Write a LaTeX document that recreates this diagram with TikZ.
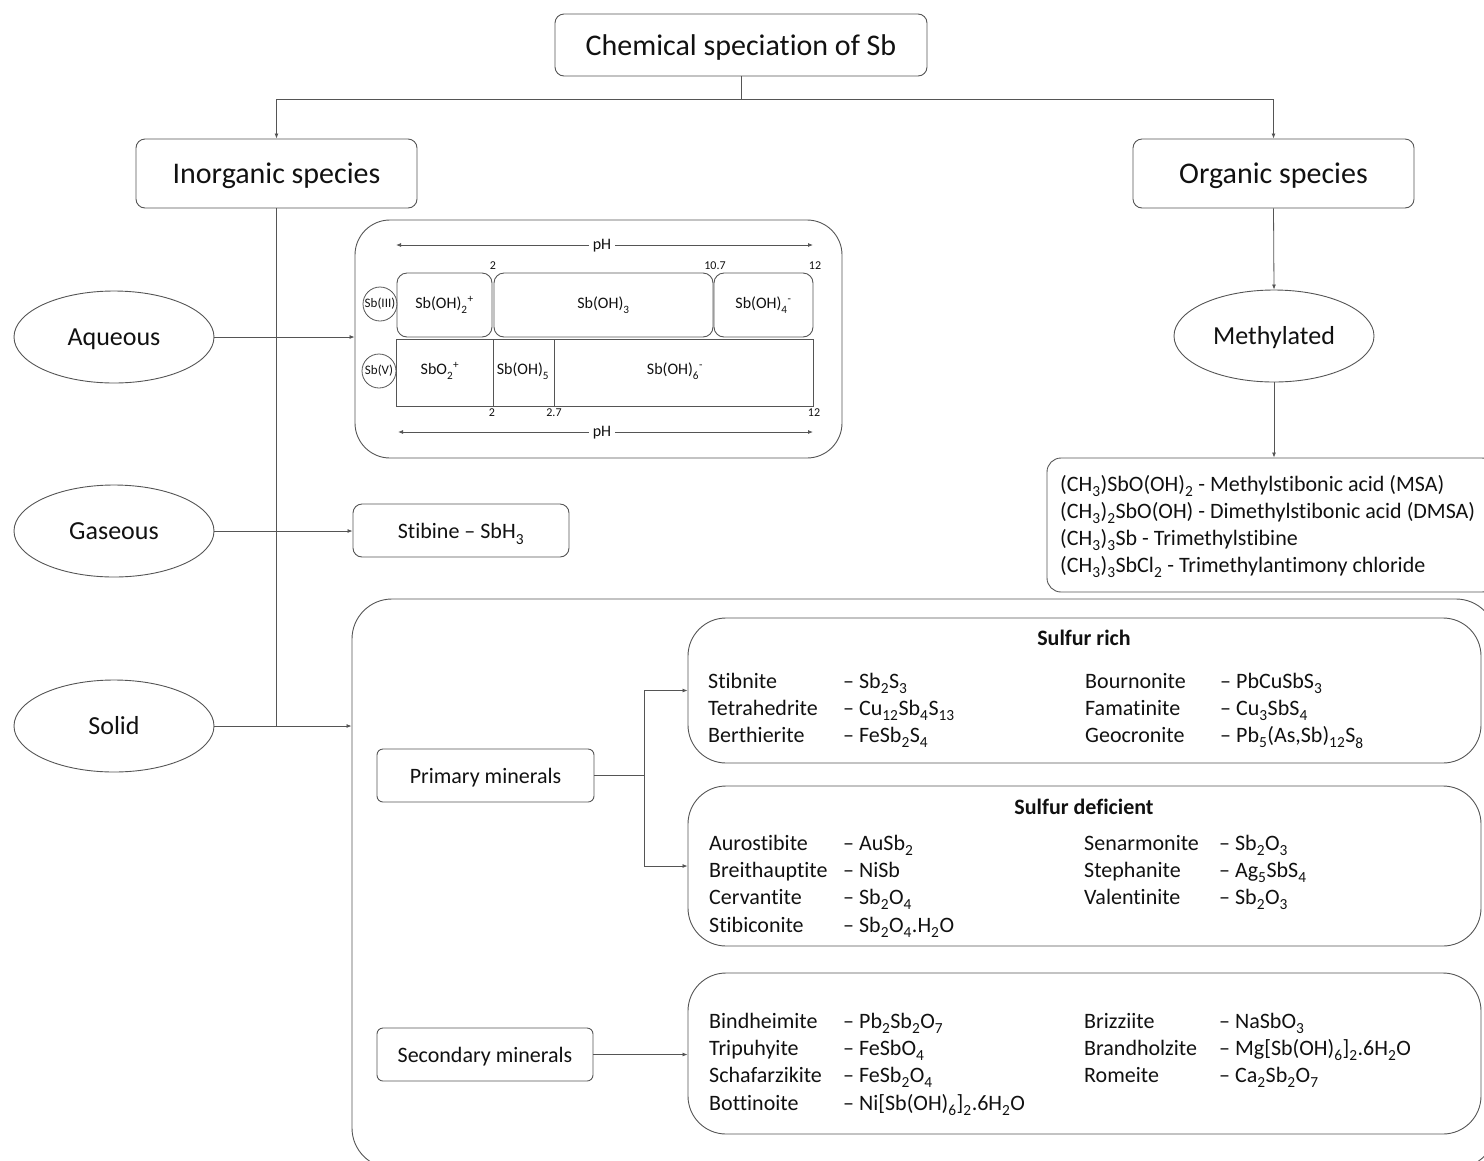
\documentclass[tikz,border=0pt]{standalone}
\usepackage{fontspec}
\setmainfont{Carlito}[Ligatures={TeX,NoCommon}]
\usetikzlibrary{arrows.meta,shapes.geometric}
\definecolor{edge}{HTML}{555555}
\definecolor{ink}{HTML}{111111}
\newcommand\chsub[1]{\raisebox{-0.12em}{\textsubscript{#1}}}
\newcommand\chsup[1]{\textsuperscript{#1}}
\newcommand\fsz[1]{\fontsize{#1}{#1}\selectfont}
\begin{document}
\begin{tikzpicture}[x=1pt,y=-1pt,
  every node/.style={text=ink},
  box/.style={draw=edge, line width=0.9pt, rounded corners=9pt, inner sep=0pt},
  bigbox/.style={draw=edge, line width=0.9pt, rounded corners=38pt, inner sep=0pt},
  ell/.style={ellipse, draw=edge, line width=0.9pt, minimum width=200pt, minimum height=92pt, inner sep=0pt, font=\fsz{26}, text height=19pt, text depth=2pt},
  conn/.style={draw=edge, line width=0.8pt},
  arr/.style={conn, -{Latex[length=5pt,width=4pt]}},
  both/.style={conn, {Latex[length=5pt,width=4pt]}-{Latex[length=5pt,width=4pt]}},
  txt/.style={inner sep=0pt, anchor=west, text height=16pt, text depth=2pt, font=\fsz{22}},
  lblbig/.style={font=\fsz{30}, text height=22pt, text depth=2pt},
  lblmid/.style={font=\fsz{22}, text height=18pt, text depth=2pt},
  small/.style={inner sep=0pt, font=\fsz{16}},
  tiny/.style={inner sep=0pt, font=\fsz{12}},
  head/.style={inner sep=0pt, font=\fsz{22}\bfseries}
]
\useasboundingbox (0,0) rectangle (1484,1160);
\clip (0,0) rectangle (1484,1160);

% top level
\node[box, lblbig, minimum width=372, minimum height=62] (title) at (741,45) {Chemical speciation of Sb};
\node[box, lblbig, minimum width=281, minimum height=69] (inorg) at (276.5,173.5) {Inorganic species};
\node[box, lblbig, minimum width=281, minimum height=69] (org) at (1273.5,173.5) {Organic species};
\coordinate (split) at (741,99);
\draw[conn] (title.south) -- (split);
\draw[arr] (split) -| (inorg.north);
\draw[arr] (split) -| (org.north);

% phases
\node[ell] (aq) at (114,337) {Aqueous};
\node[ell] (gas) at (114,531) {Gaseous};
\node[ell] (solid) at (114,726) {Solid};
\draw[conn] (inorg.south) -- (inorg.south |- solid.east);

% aqueous speciation versus pH
\node[draw=edge, line width=0.9pt, rounded corners=35pt, inner sep=0pt, minimum width=487, minimum height=238] (phbox) at (598.5,339) {};
\draw[arr] (aq.east) -- (aq.east -| phbox.west);

\coordinate (phTL) at (396,245);
\coordinate (phTR) at (813,245);
\draw[both] (phTL) -- (phTR);
\node[small, fill=white, inner xsep=4pt] (phT) at (602,246) {pH};
\node[tiny] (nt1) at (493,266) {2};
\node[tiny] (nt2) at (715,266) {10.7};
\node[tiny] (nt3) at (815,266) {12};

\node[box, rounded corners=10pt, minimum width=95, minimum height=64, font=\fsz{16}] (s3a) at (444.5,305) {Sb(OH)\chsub{2}\chsup{+}};
\node[box, rounded corners=10pt, minimum width=219, minimum height=64, font=\fsz{16}] (s3b) at (603.5,305) {Sb(OH)\chsub{3}};
\node[box, rounded corners=10pt, minimum width=99, minimum height=64, font=\fsz{16}] (s3c) at (763.5,305) {Sb(OH)\chsub{4}\chsup{-}};
\node[circle, draw=edge, line width=0.8pt, minimum size=34pt, inner sep=0pt, font=\fsz{13}] (c3) at (380,304) {Sb(III)};

\node[draw=edge, line width=0.9pt, inner sep=0pt, minimum width=417, minimum height=67] (s5) at (604.5,372.5) {};
\draw[conn] (493,339) -- (493,406);
\draw[conn] (554,339) -- (554,406);
\node[small] (s5a) at (440,371) {SbO\chsub{2}\chsup{+}};
\node[small] (s5b) at (523,371) {Sb(OH)\chsub{5}};
\node[small] (s5c) at (675,371) {Sb(OH)\chsub{6}\chsup{-}};
\node[circle, draw=edge, line width=0.8pt, minimum size=34pt, inner sep=0pt, font=\fsz{13}] (c5) at (379,371) {Sb(V)};

\node[tiny] (nb1) at (492,413) {2};
\node[tiny] (nb2) at (554,413) {2.7};
\node[tiny] (nb3) at (814,413) {12};
\coordinate (phBL) at (398,432);
\coordinate (phBR) at (813,432);
\draw[both] (phBL) -- (phBR);
\node[small, fill=white, inner xsep=4pt] (phB) at (602,433) {pH};

% gaseous
\node[box, lblmid, minimum width=216, minimum height=53] (stib) at (461,530.5) {Stibine – SbH\chsub{3}};
\draw[arr] (gas.east) -- (gas.east -| stib.west);

% organic branch
\node[ell] (meth) at (1274,336) {Methylated};
\draw[arr] (org.south) -- (meth.north);
\node[box, rounded corners=14pt, minimum width=449, minimum height=134] (orglist) at (1271.5,525) {};
\draw[arr] (meth.south) -- (meth.south |- orglist.north);
\node[txt] (o1) at (1060,484) {(CH\chsub{3})SbO(OH)\chsub{2} - Methylstibonic acid (MSA)};
\node[txt] (o2) at (1060,511) {(CH\chsub{3})\chsub{2}SbO(OH) - Dimethylstibonic acid (DMSA)};
\node[txt] (o3) at (1060,538) {(CH\chsub{3})\chsub{3}Sb - Trimethylstibine};
\node[txt] (o4) at (1060,565) {(CH\chsub{3})\chsub{3}SbCl\chsub{2} - Trimethylantimony chloride};

% solid phases
\node[bigbox, rounded corners=40pt, minimum width=1144, minimum height=569] (solidbox) at (924,883.5) {};
\draw[arr] (solid.east) -- (solid.east -| solidbox.west);

\node[box, lblmid, rounded corners=6pt, minimum width=217, minimum height=53] (prim) at (485.5,775.5) {Primary minerals};
\node[box, lblmid, rounded corners=6pt, minimum width=216, minimum height=53] (sec) at (485,1054.5) {Secondary minerals};

\node[bigbox, minimum width=793, minimum height=145] (srich) at (1084.5,690.5) {};
\node[bigbox, minimum width=793, minimum height=160] (sdef) at (1084.5,866) {};
\node[bigbox, minimum width=793, minimum height=161] (secbox) at (1084.5,1053.5) {};

\coordinate (fork) at (644,775.5);
\draw[conn] (prim.east) -- (fork);
\draw[arr] (fork) |- (srich.west);
\draw[arr] (fork) |- (sdef.west);
\draw[arr] (sec.east) -- (sec.east -| secbox.west);

% sulfur rich
\node[head] (srt) at (1084,638) {Sulfur rich};
\node[txt] (sr1) at (708,681) {Stibnite};
\node[txt] (sr1f) at (843,681) {– Sb\chsub{2}S\chsub{3}};
\node[txt] (sr2) at (708,708) {Tetrahedrite};
\node[txt] (sr2f) at (843,708) {– Cu\chsub{12}Sb\chsub{4}S\chsub{13}};
\node[txt] (sr3) at (708,735) {Berthierite};
\node[txt] (sr3f) at (843,735) {– FeSb\chsub{2}S\chsub{4}};
\node[txt] (sr4) at (1085,681) {Bournonite};
\node[txt] (sr4f) at (1220,681) {– PbCuSbS\chsub{3}};
\node[txt] (sr5) at (1085,708) {Famatinite};
\node[txt] (sr5f) at (1220,708) {– Cu\chsub{3}SbS\chsub{4}};
\node[txt] (sr6) at (1085,735) {Geocronite};
\node[txt] (sr6f) at (1220,735) {– Pb\chsub{5}(As,Sb)\chsub{12}S\chsub{8}};

% sulfur deficient
\node[head] (sdt) at (1084,807) {Sulfur deficient};
\node[txt] (sd1) at (709,843) {Aurostibite};
\node[txt] (sd1f) at (843,843) {– AuSb\chsub{2}};
\node[txt] (sd2) at (709,870) {Breithauptite};
\node[txt] (sd2f) at (843,870) {– NiSb};
\node[txt] (sd3) at (709,897) {Cervantite};
\node[txt] (sd3f) at (843,897) {– Sb\chsub{2}O\chsub{4}};
\node[txt] (sd4) at (709,925) {Stibiconite};
\node[txt] (sd4f) at (843,925) {– Sb\chsub{2}O\chsub{4}.H\chsub{2}O};
\node[txt] (sd5) at (1084,843) {Senarmonite};
\node[txt] (sd5f) at (1219,843) {– Sb\chsub{2}O\chsub{3}};
\node[txt] (sd6) at (1084,870) {Stephanite};
\node[txt] (sd6f) at (1219,870) {– Ag\chsub{5}SbS\chsub{4}};
\node[txt] (sd7) at (1084,897) {Valentinite};
\node[txt] (sd7f) at (1219,897) {– Sb\chsub{2}O\chsub{3}};

% secondary minerals
\node[txt] (se1) at (709,1021) {Bindheimite};
\node[txt] (se1f) at (843,1021) {– Pb\chsub{2}Sb\chsub{2}O\chsub{7}};
\node[txt] (se2) at (709,1048) {Tripuhyite};
\node[txt] (se2f) at (843,1048) {– FeSbO\chsub{4}};
\node[txt] (se3) at (709,1075) {Schafarzikite};
\node[txt] (se3f) at (843,1075) {– FeSb\chsub{2}O\chsub{4}};
\node[txt] (se4) at (709,1103) {Bottinoite};
\node[txt] (se4f) at (843,1103) {– Ni[Sb(OH)\chsub{6}]\chsub{2}.6H\chsub{2}O};
\node[txt] (se5) at (1084,1021) {Brizziite};
\node[txt] (se5f) at (1219,1021) {– NaSbO\chsub{3}};
\node[txt] (se6) at (1084,1048) {Brandholzite};
\node[txt] (se6f) at (1219,1048) {– Mg[Sb(OH)\chsub{6}]\chsub{2}.6H\chsub{2}O};
\node[txt] (se7) at (1084,1075) {Romeite};
\node[txt] (se7f) at (1219,1075) {– Ca\chsub{2}Sb\chsub{2}O\chsub{7}};
\end{tikzpicture}
\end{document}
